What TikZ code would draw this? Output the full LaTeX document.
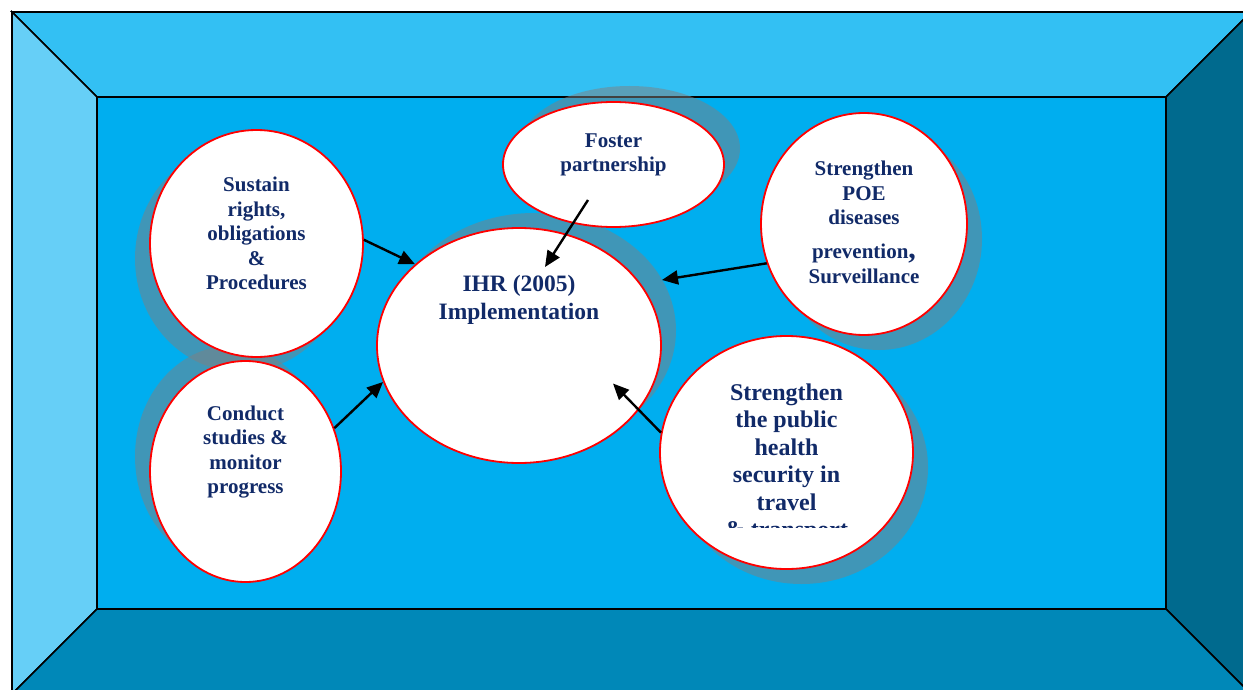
\documentclass[tikz,border=0pt]{standalone}
\usepackage{fontspec}
\setmainfont{Liberation Serif}
\usepackage{xcolor}
\usetikzlibrary{arrows.meta,calc,positioning,shapes.geometric}
\definecolor{navytext}{HTML}{112A68}
\definecolor{wallTop}{HTML}{33C0F3}
\definecolor{wallLeft}{HTML}{66CFF7}
\definecolor{wallRight}{HTML}{006A8E}
\definecolor{wallBottom}{HTML}{0088B8}
\definecolor{wallBack}{HTML}{00AEEF}
\newcommand{\bubblelist}{%
  sustain/256.5/243.5/106.5/113.5/-15/15,
  conduct/245.5/471.5/95.5/110.5/-15/-15,
  foster/613.5/164.5/110.5/62.5/16/-16,
  ihr/519/345.5/142/117.5/15/-15,
  poe/864/224/103/111/15/15,
  public/786.5/452.5/126.5/116.5/15/15}

\begin{document}
\begin{tikzpicture}[
    x=1pt, y=-1pt,
    wall/.style={draw=black, line width=1.6pt, line join=miter},
    bubshadow/.style={fill=gray, opacity=0.5},
    bubble/.style={ellipse, draw=red, line width=1.8pt, fill=white, inner sep=0},
    lbl/.style={font=\bfseries\fontsize{21}{24.5}\selectfont, text=navytext, align=center, inner sep=0},
    lblbig/.style={lbl, font=\bfseries\fontsize{23.5}{28}\selectfont},
    link/.style={-{Triangle[length=16pt,width=14pt]}, line width=2.4pt, black}]
\useasboundingbox (0,0) rectangle (1243,690);
\clip (0,0) rectangle (1243,690);

\path[wall, fill=wallBack]   (97,97) rectangle (1166,609);
\path[wall, fill=wallTop]    (12,12) -- (1251,12) -- (1166,97) -- (97,97) -- cycle;
\path[wall, fill=wallLeft]   (12,12) -- (97,97) -- (97,609) -- (12,694) -- cycle;
\path[wall, fill=wallRight]  (1251,12) -- (1251,694) -- (1166,609) -- (1166,97) -- cycle;
\path[wall, fill=wallBottom] (12,694) -- (97,609) -- (1166,609) -- (1251,694) -- cycle;

\foreach \n/\cx/\cy/\rx/\ry/\sx/\sy in \bubblelist {
  \fill[bubshadow] (\cx+\sx,\cy+\sy) ellipse [x radius=\rx, y radius=\ry];
}
\foreach \n/\cx/\cy/\rx/\ry/\sx/\sy in \bubblelist {
  \node[bubble, minimum width={2*\rx*1pt}, minimum height={2*\ry*1pt}] (\n) at (\cx,\cy) {};
}

\node[lbl] (sustain-txt) at ([yshift=10pt]sustain.center) {Sustain\\rights,\\obligations\\\&\\Procedures};
\node[lbl] (conduct-txt) at ([yshift=19.5pt]conduct.center) {Conduct\\studies \&\\monitor\\progress};
\node[lbl] (foster-txt) at ([yshift=9.5pt]foster.center) {Foster\\partnership};
\node[lbl] (poe-txt) at ([yshift=1.5pt]poe.center) {Strengthen\\POE\\diseases\\[9pt]prevention{\fontsize{30}{30}\selectfont\smash{,}}\\[1pt]Surveillance};
\node[lblbig] (ihr-txt) at ([yshift=45.5pt]ihr.center) {IHR (2005)\\Implementation};
\begin{scope}
  \clip (600,360) rectangle (980,527);
  \node[lblbig, font=\bfseries\fontsize{24}{27.5}\selectfont] (public-txt) at ([yshift=-10.5pt]public.center)
    {Strengthen\\the public\\health\\security in\\travel\\\& transport};
\end{scope}

\draw[link] (sustain.2) -- (ihr.142);
\draw[link] ([xshift=-25.5pt,yshift=-35.5pt]foster.center) -- ([xshift=26pt,yshift=78.5pt]ihr.center);
\draw[link] (poe.202) -- ([xshift=143pt,yshift=65.5pt]ihr.center);
\draw[link] (conduct.26) -- (ihr.195);
\draw[link] (public.171) -- ([xshift=94pt,yshift=-38pt]ihr.center);

\end{tikzpicture}
\end{document}
